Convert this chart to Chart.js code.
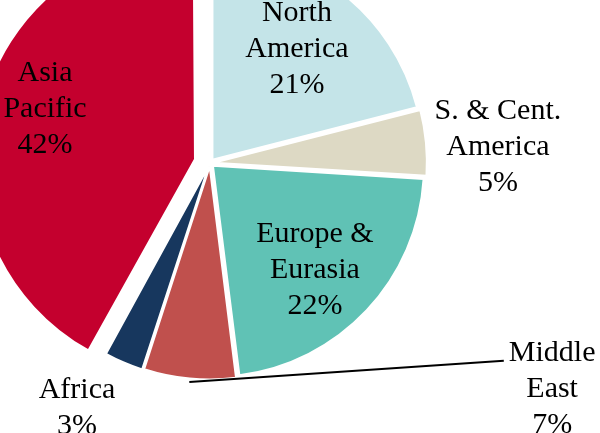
<!DOCTYPE html>
<html>
<head>
<meta charset="utf-8">
<script src="https://cdn.jsdelivr.net/npm/chart.js@4"></script>
<style>
  html, body { margin: 0; padding: 0; background: #ffffff; overflow: hidden; }
  #wrap { position: relative; width: 600px; height: 433px; }
</style>
</head>
<body>
<div id="wrap"><canvas id="c" width="600" height="433"></canvas></div>
<script>
// ---- data ----
const categories = ["North America", "S. & Cent. America", "Europe & Eurasia", "Middle East", "Africa", "Asia Pacific"];
const shares = [21, 5, 22, 7, 3, 42];
const labelLines = [
  ["North", "America", "21%"],
  ["S. & Cent.", "America", "5%"],
  ["Europe &", "Eurasia", "22%"],
  ["Middle", "East", "7%"],
  ["Africa", "3%"],
  ["Asia", "Pacific", "42%"]
];
// ---- style ----
const colors = ["#C4E4E8", "#DDD9C4", "#60C2B5", "#C0504D", "#17375E", "#C4002E"];
// Chart.js v4 translates a slice by offset/4 px
const sliceOffsets = [16, 14, 16, 14, 14, 62];
// label placement relative to slice: radius factor, angle delta (deg)
const labelPlace = [
  { f: 0.683, da: -0.7 },
  { f: 1.367, da: 2.0 },
  { f: 0.707, da: 2.1 },
  { f: 1.940, da: -62.1, leader: true },
  { f: 1.317, da: 5.2 },
  { f: 0.824, da: 4.0 }
];
const FONT = '30px "Liberation Serif", "Times New Roman", serif';
const LINE_H = 36;

const labelPlugin = {
  id: 'sliceLabels',
  afterDatasetsDraw(chart) {
    const ctx = chart.ctx;
    const meta = chart.getDatasetMeta(0);
    ctx.save();
    ctx.font = FONT;
    ctx.fillStyle = '#000';
    ctx.textAlign = 'center';
    ctx.textBaseline = 'alphabetic';
    meta.data.forEach((arc, i) => {
      const p = arc.getProps(['x', 'y', 'startAngle', 'endAngle', 'outerRadius'], true);
      const mid = (p.startAngle + p.endAngle) / 2;
      const pl = labelPlace[i];
      const a = mid + pl.da * Math.PI / 180;
      const r = p.outerRadius * pl.f;
      const ax = p.x + Math.cos(a) * r;
      const ay = p.y + Math.sin(a) * r;
      const lines = labelLines[i];
      const n = lines.length;
      const firstBase = ay + 9 - (n - 1) / 2 * LINE_H;
      lines.forEach((t, k) => ctx.fillText(t, ax, firstBase + k * LINE_H));
      if (pl.leader) {
        const rr = p.outerRadius + sliceOffsets[i] / 2 + 2;
        const sx = p.x + Math.cos(mid) * rr;
        const sy = p.y + Math.sin(mid) * rr;
        const w = ctx.measureText(lines[0]).width;
        const ex = ax - w / 2 - 5;
        const ey = firstBase;
        ctx.beginPath();
        ctx.strokeStyle = '#000';
        ctx.lineWidth = 2;
        ctx.moveTo(sx, sy);
        ctx.lineTo(ex, ey);
        ctx.stroke();
      }
    });
    ctx.restore();
  }
};

new Chart(document.getElementById('c'), {
  type: 'pie',
  data: {
    labels: categories,
    datasets: [{
      data: shares,
      backgroundColor: colors,
      borderColor: '#ffffff',
      borderWidth: 2,
      offset: sliceOffsets,
      radius: 211,
      clip: false
    }]
  },
  options: {
    responsive: false,
    animation: false,
    radius: 211,
    layout: { padding: { left: 0, right: 180, top: 0, bottom: 107 } },
    plugins: { legend: { display: false }, tooltip: { enabled: false } },
    events: []
  },
  plugins: [labelPlugin]
});
</script>
</body>
</html>
